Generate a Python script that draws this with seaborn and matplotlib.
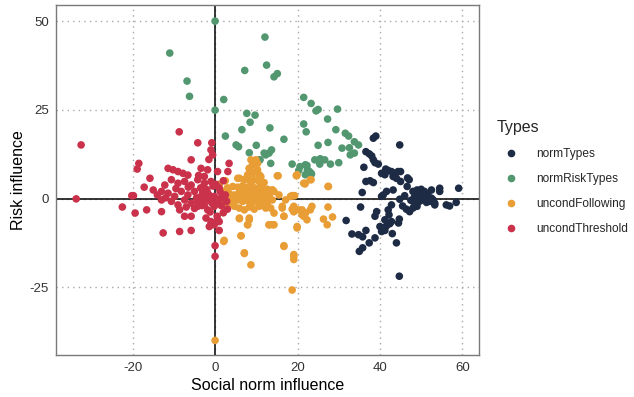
import matplotlib
matplotlib.use("Agg")
import matplotlib.pyplot as plt
import seaborn as sns
import pandas as pd
from matplotlib.lines import Line2D

# ---- data ----
types = ["normTypes", "normRiskTypes", "uncondFollowing", "uncondThreshold"]
colors = ["#1e2b45", "#52976f", "#e99d35", "#c9324a"]

norm_x = [38.4, 39, 44.8, 36.6, 37.4, 38, 38.4, 38.8, 39.6, 36.1, 41.4, 42, 42.8, 43.6, 44.4, 45,
          40.4, 41.2, 43.2, 44, 36.6, 37.6, 38.4, 45, 47.1, 46.6, 43.2, 35.7, 40.8, 41.6, 40.4,
          48, 49, 50, 50.8, 51.6, 52.5, 54.5, 54.5, 59.1,
          48.4, 49.2, 50, 50.8, 51.6, 52.5, 49.6, 50.4, 51.3, 52.1, 52.9, 53.3, 48, 48.9,
          56.1, 56.9, 58.5, 53.3, 44.8, 45.5, 46.4, 47.2, 48, 49, 35.3, 42.8, 42, 39.2, 38.8,
          31.8, 41.2, 42.2, 44.7, 44.5, 40, 40.6, 41.6, 42.4, 42.8, 36.6, 40.4, 41.2,
          33.2, 34.8, 35.8, 43, 38.8, 37.4, 44, 35.8, 35, 44.7, 46.7, 49.5, 50.2, 51, 47.5, 46]
norm_y = [17, 17.6, 15.1, 13.2, 12.6, 12, 10.9, 10.1, 9.7, 8.8, 8.3, 7.9, 7.6, 7.1, 7.6, 7.6,
          7.1, 6.7, 6.2, 5.7, 4.8, 5, 4.5, 4.8, 5.3, 3.4, 2.4, 1.7, 1, 2, 0.6,
          2, 2.4, 2.6, 2, 1.3, 2.4, 2.9, 2, 2.9,
          0.6, 0.1, 0.8, 0.4, -0.2, 0.1, -0.8, -0.4, -1.1, -0.8, -0.4, -1.3, -0.8, -1.3,
          -1.8, -2.1, -1.1, -1.8, -0.2, -2.1, -3, -3.7, -2.7, -2.2, -2.4, -1.8, -3.2, -3.7, -5,
          -6.2, -6, -4.6, -5.8, -6.9, -7.9, -8.3, -7.7, -7.1, -6.5, -9, -9.3, -9,
          -10, -10.2, -10.8, -9.9, -11.1, -12.5, -12.5, -13.9, -14.9, -21.9, 5.8, 1.2, 0.3, 1.5, -0.5, 0.8]

risk_x = [0, 12.1, 7.2, 12.5, 14.3, 15.1, 2.1, 0, 7.7, 9.7, 8.5, 6.5, 13.3, 2.5, 16.7, 5.1, 5.7,
          10, 8.3, 12.3, 13.1, 13.7, 10.8, 13.5, 18.7, 20.6, 20.3, 22.3, 22.7, 23.4,
          21.5, 23.3, 24.5, 25, 29.7, 27.3, 21.5, 22.1, 29.3, 31.6, 32.4, 27.4, 25, 30.8, 32.6,
          33.8, 34.8, 32.8, 33.8, 24.2, 25.5, 26.6, 25.4, 28, 30, 21.9, 22.4, 21.9,
          -11, -6.8, -6.2, 11.9, 10.9, 22.9, 23.3]
risk_y = [50, 45.5, 36.1, 37.6, 34.3, 35.2, 27.9, 24.9, 24, 23.5, 21.5, 19.4, 19.9, 17.6, 16.7, 15.1, 14.6,
          15, 12.9, 12.3, 12.8, 13.7, 10.9, 9.9, 9.7, 9, 7.9, 9.3, 7.6, 6.9,
          28.5, 26.8, 24.7, 25.1, 25.2, 22.4, 21, 18.8, 19.4, 18.4, 17.6, 15.8, 15, 14.2, 14.3,
          16, 15.1, 12.3, 12.8, 10.9, 11.2, 10.9, 9.7, 9.7, 10.1, 9.5, 8.1, 6.7,
          41, 33.1, 28.8, 12.8, 10.9, 7.6, 7.1]

follow_x = [8.3, 9.1, 10.3, 9.9, 7.9, 9.1, 9.9, 10.7,
            5.9, 7.1, 8.3, 9.5, 10.7, 11.9,
            4.3, 5.5, 6.7, 7.9, 9.1, 10.3, 11.5, 12.7, 13.9,
            3.4, 4.7, 5.9, 7.1, 8.3, 9.5, 10.7, 11.9, 13.1, 14.3,
            3.1, 4.3, 5.5, 6.7, 7.9, 9.1, 10.3, 11.5, 12.7, 13.9,
            4.7, 5.9, 7.1, 8.3, 9.5, 10.7, 12.3,
            5.9, 8.3, 7.9, 6.3, 2.2, 13.1, 14.3, 16.3, 16.7, 18.9, 19.1, 19.1,
            19.9, 21.5, 15.1, 18.3, 19.9, 16.7, 7.1, 19.1, 21.1, 21.9, 21.5,
            15.3, 19.8, 21.8, 23.1, 27.4, 15.5, 17.1, 18.7, 19.3, 13.9, 13.1, 12.3, 11.5,
            13.5, 14.3, 16.3, 16.7, 18.7, 19.1, 20.3, 21.1, 21.9, 22.3, 23.1, 23.5,
            27.4, 26.3, 28.5, 27.2, 19.9, 13.1, 13.9, 16.7, 19.1, 19.1,
            2.1, 6.3, 7.1, 8.7, 18.7, 0, 5.9, 7.9, 8.3,
            1.5, 2, 2.5, 1, 2, 3, 1, 3.5, 2.5,
            8.7, 9.9, 8.3, 10.3, 11.1, 5.5, 19.7, 21.8, 23.3, 27.5,
            6.2, 7.5, 8.8, 10, 11.2, 12.5, 4.5, 6, 7.5, 9, 10.5, 12]
follow_y = [8.5, 9.5, 9.9, 10.9, 6.7, 7.1, 7.6, 6.7,
            5.7, 5.4, 5.1, 5.3, 4.8, 4.5,
            3.4, 3.2, 3.6, 3.2, 3.4, 2.9, 3.2, 2.6, 2.4,
            1.5, 1, 1.7, 1.3, 1, 1.5, 0.8, 1, 0.6, 2,
            -0.4, -0.8, -0.4, -0.8, -0.6, -1.1, -0.8, -1.3, -1.1, -0.4,
            -2.2, -2.7, -3.2, -2.4, -3, -2.2, -2.7,
            -5.5, -6, -7.4, -10.5, -11.8, -7.4, -7.4, -2.2, -5, 0.8, -2.2, -3.7,
            6.7, 4.3, 6.4, 0.6, -7.9, -13.5, -15.5, -16.3, -3.2, -4.1, -5,
            6.4, 6.4, 4.1, 5.3, 3.4, 1, -0.4, 0.8, 0.8, 2.4, 1, -0.4, 0.6,
            -2.7, -4.1, -2.7, -5, -3, -3.7, -3.2, -4.6, -4.1, -6, -3.2, -2.2,
            -2.4, -5.8, -5.2, -7.4, -8.3, -7.4, -7.4, -13.3, -15.8, -17.2,
            -12.1, -10.5, -15.3, -18.7, -25.8, -40, -5.7, -7.4, -5.5,
            0, 2, -2, 4, -4, 3, -1, -1.5, 5,
            10.9, 9.9, 8.5, 8.1, 6.2, 5.7, 6.5, 4.3, 5.3, 3.4,
            2.2, 2, 2.1, 2.3, 1.9, 2.1, 0.3, 0.2, 0.1, 0.3, 0.2, 0.2]

thresh_x = [-32.5, -33.7, -8.7, -4.2, -0.8, -1, -0.6, -5.8, -18.5, -18.9, 3.4, 3.1,
            -11.4, -10.2, -9, -7.8, -6.6, -3.4, -1.8, -2.6, 0.6,
            -15.8, -17.2, -15, -12.2, -13,
            -10.6, -9, -7.4, -5.8, -4.2, -2.6, -1,
            -20.2, -19.8,
            -11.4, -9.8, -8.2, -6.6, -5, -3.4, -1.8, -0.2,
            -13, -10.6, -9, -7.4, -5.8, -4.2, -2.6, -1, 0.6, 1.4,
            -22.5, -16.6, -19.4,
            -13, -8.6, -7, -4.2, -1.8, -0.2,
            -7.4, -5.8, -2.2, -1, 0.6,
            -12.6, -8.6, -5.8, -1.4, -0.2, 1,
            0, 0, -1, 2, 1, 2.5, 1.5, 2, 0.5, 1, 3,
            -3.5, -2, -0.5, -4.5, -3, -1.5, -3.8, -2.4, -0.8, -5, -3.2, -1.2, -0.3,
            -6.5, -12, -14, -9.5, -4, -1.5, 0.2, 1.2, 2.8, -3, -2]
thresh_y = [15.1, -0.1, 18.8, 15.7, 15.7, 13.7, 12.3, 10.9, 9.9, 8.3, 9.9, 7.6,
            8.5, 8.1, 7.6, 7.1, 6.6, 8.5, 8.1, 6.2, 7.6,
            5.7, 3.2, 2.4, 3.8, 2,
            5.3, 4.3, 4.8, 3.8, 5.3, 4.3, 4.8,
            0.8, 0.8,
            1.5, 0.6, 2, 1, 2, 0.6, 1.5, 0.6,
            -0.4, -0.8, -1.8, -0.4, -1.3, -0.8, -1.8, -0.4, -1.3, 0.1,
            -2.4, -3.2, -4.1,
            -3.7, -3.2, -2.4, -2.2, -3.2, -2.2,
            -5, -5, -5.5, -6.5, -6,
            -9.7, -9.3, -9, -7.9, -7.4, -6.5,
            -13.3, -16.3, -7.4, 5, 3, 1, -2, -4, -5, -9, -3,
            3, 2.5, 3.5, 0.2, 0.8, 1, -1, -0.5, -1.2, -2.8, -2, -3.8, -1.8,
            3.2, 0.2, 1, 2.8, 6.5, 11, 4, 2, -0.8, 1.8, 0]

xticks = [-20, 0, 20, 40, 60]
yticks = [-25, 0, 25, 50]
xlabel = "Social norm influence"
ylabel = "Risk influence"
legend_title = "Types"

df = pd.concat([
    pd.DataFrame({"x": norm_x, "y": norm_y, "Types": types[0]}),
    pd.DataFrame({"x": risk_x, "y": risk_y, "Types": types[1]}),
    pd.DataFrame({"x": follow_x, "y": follow_y, "Types": types[2]}),
    pd.DataFrame({"x": thresh_x, "y": thresh_y, "Types": types[3]}),
], ignore_index=True)

sns.set_style("white")
plt.rcParams["font.family"] = ["Liberation Sans", "DejaVu Sans"]
plt.rcParams["axes.unicode_minus"] = False

fig = plt.figure(figsize=(6.34, 3.97), dpi=100)
ax = fig.add_axes([0.0883, 0.105, 0.667, 0.882])

ax.axhline(0, color="black", lw=1.1, zorder=1)
ax.axvline(0, color="black", lw=1.1, zorder=1)

sns.scatterplot(data=df, x="x", y="y", hue="Types", hue_order=types,
                palette=colors, s=30, linewidth=0, alpha=1, ax=ax, legend=False, zorder=3)

ax.set_xlim(-38.6, 64)
ax.set_ylim(-44.2, 54.5)
ax.set_xticks(xticks)
ax.set_yticks(yticks)
ax.grid(True, which="major", linestyle=(0, (1, 3)), color="#a8a8a8", lw=1.0, zorder=0)
ax.set_axisbelow(True)
for sp in ax.spines.values():
    sp.set_color("#7a7a7a")
    sp.set_linewidth(1.0)
ax.tick_params(axis="both", length=3, width=0.8, color="#333333", labelsize=9.5,
               labelcolor="#333333", pad=2)
ax.set_xlabel(xlabel, fontsize=11.5, color="black", labelpad=3)
ax.set_ylabel(ylabel, fontsize=11.5, color="black", labelpad=3)

handles = [Line2D([0], [0], marker="o", color="none", markerfacecolor=c, markeredgecolor="none",
                  markersize=5.5) for c in colors]
fig.legend(handles, types, title=legend_title, loc="upper left", bbox_to_anchor=(0.766, 0.725),
           frameon=False, fontsize=8.6, title_fontsize=11.5, handletextpad=0.9,
           labelspacing=1.1, handlelength=2.4, alignment="left")

fig.savefig("out.png", dpi=100)
